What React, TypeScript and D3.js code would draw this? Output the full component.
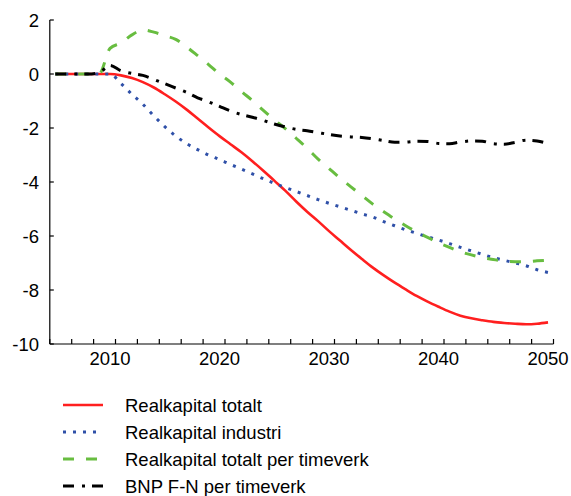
import React from "react";
import * as d3 from "d3";

const years: number[] = d3.range(2005, 2051);

const realkapitalTotalt: number[] = [
  0, 0, 0, 0, 0, 0, -0.05, -0.15, -0.3, -0.5,
  -0.75, -1.02, -1.32, -1.65, -1.98, -2.3, -2.6, -2.9, -3.23, -3.58,
  -3.95, -4.32, -4.72, -5.1, -5.45, -5.82, -6.17, -6.52, -6.85, -7.17,
  -7.46, -7.73, -7.98, -8.22, -8.43, -8.62, -8.8, -8.95, -9.05, -9.12,
  -9.18, -9.22, -9.25, -9.27, -9.25, -9.2,
];

const realkapitalIndustri: number[] = [
  0, 0, 0, 0, 0, 0, -0.35, -0.75, -1.12, -1.55,
  -1.95, -2.3, -2.58, -2.8, -3.0, -3.17, -3.35, -3.52, -3.7, -3.88,
  -4.05, -4.2, -4.35, -4.5, -4.65, -4.79, -4.92, -5.05, -5.18, -5.3,
  -5.47, -5.62, -5.77, -5.9, -6.03, -6.15, -6.28, -6.42, -6.55, -6.68,
  -6.8, -6.9, -7.0, -7.1, -7.25, -7.35,
];

const realkapitalPerTimeverk: number[] = [
  0, 0, 0, 0, 0, 0.95, 1.15, 1.45, 1.63, 1.55,
  1.42, 1.28, 1.0, 0.68, 0.35, 0.0, -0.3, -0.65, -0.98, -1.35,
  -1.7, -2.02, -2.38, -2.75, -3.15, -3.5, -3.85, -4.18, -4.5, -4.82,
  -5.1, -5.37, -5.62, -5.85, -6.05, -6.25, -6.42, -6.58, -6.7, -6.8,
  -6.87, -6.93, -6.95, -6.95, -6.92, -6.9,
];

const bnpPerTimeverk: number[] = [
  0, 0, 0, 0, 0.05, 0.32, 0.12, 0.02, -0.05, -0.2,
  -0.36, -0.52, -0.68, -0.88, -1.03, -1.2, -1.37, -1.5, -1.6, -1.72,
  -1.85, -1.96, -2.05, -2.1, -2.17, -2.24, -2.3, -2.33, -2.35, -2.4,
  -2.47, -2.53, -2.52, -2.49, -2.5, -2.57, -2.58, -2.52, -2.48, -2.49,
  -2.58, -2.6, -2.53, -2.45, -2.48, -2.58,
];

const seriesNames: string[] = [
  "Realkapital totalt",
  "Realkapital industri",
  "Realkapital totalt per timeverk",
  "BNP F-N per timeverk",
];

const yTicks: number[] = [2, 0, -2, -4, -6, -8, -10];
const xLabels: number[] = [2010, 2020, 2030, 2040, 2050];

const styles = [
  { color: "#ff1f1f", width: 2.6, dash: "" },
  { color: "#2f50a8", width: 3, dash: "3,7" },
  { color: "#68bd40", width: 3, dash: "11,12" },
  { color: "#000000", width: 3, dash: "11,8,3,7" },
];

export default function App() {
  const seriesData = [
    realkapitalTotalt,
    realkapitalIndustri,
    realkapitalPerTimeverk,
    bnpPerTimeverk,
  ];

  const x = d3.scaleLinear().domain([2004.5, 2050.5]).range([49.8, 553.5]);
  const y = d3.scaleLinear().domain([-10, 2]).range([344, 20]);

  const line = d3
    .line<number>()
    .x((_, i) => x(years[i]))
    .y((d) => y(d))
    .curve(d3.curveMonotoneX);

  const xTickYears = d3.range(2004.5, 2051, 2);
  const font = "'Liberation Sans', Arial, sans-serif";

  const legendY0 = 405;
  const legendStep = 27;

  return (
    <svg
      width={571}
      height={496}
      style={{ position: "absolute", left: 0, top: 0, background: "#fff" }}
      fontFamily={font}
    >
      <rect x={0} y={0} width={571} height={496} fill="#fff" />
      <line x1={x(2004.5)} x2={x(2004.5)} y1={y(2)} y2={y(-10)} stroke="#000" strokeWidth={1.2} />
      {yTicks.map((t) => (
        <g key={"yt" + t}>
          <line x1={x(2004.5)} x2={x(2004.5) + 4} y1={y(t)} y2={y(t)} stroke="#000" strokeWidth={1.2} />
          <text x={39} y={y(t)} dy="0.36em" textAnchor="end" fontSize={18.5} fill="#000">
            {t}
          </text>
        </g>
      ))}
      <line x1={x(2004.5)} x2={x(2050.5)} y1={y(-10)} y2={y(-10)} stroke="#000" strokeWidth={1.2} />
      {xTickYears.map((t) => (
        <line key={"xt" + t} x1={x(t)} x2={x(t)} y1={y(-10)} y2={y(-10) - 5} stroke="#000" strokeWidth={1.2} />
      ))}
      {xLabels.map((t) => (
        <text key={"xl" + t} x={x(t)} y={365} textAnchor="middle" fontSize={18.5} fill="#000">
          {t}
        </text>
      ))}
      {seriesData.map((d, i) => (
        <path
          key={"s" + i}
          d={line(d) || ""}
          fill="none"
          stroke={styles[i].color}
          strokeWidth={styles[i].width}
          strokeDasharray={styles[i].dash || undefined}
          strokeLinejoin="round"
        />
      ))}
      {seriesNames.map((name, i) => (
        <g key={"lg" + i}>
          <line
            x1={63}
            x2={103}
            y1={legendY0 + i * legendStep}
            y2={legendY0 + i * legendStep}
            stroke={styles[i].color}
            strokeWidth={styles[i].width}
            strokeDasharray={styles[i].dash || undefined}
          />
          <text x={125} y={legendY0 + i * legendStep} dy="0.36em" fontSize={18.5} fill="#000">
            {name}
          </text>
        </g>
      ))}
    </svg>
  );
}
